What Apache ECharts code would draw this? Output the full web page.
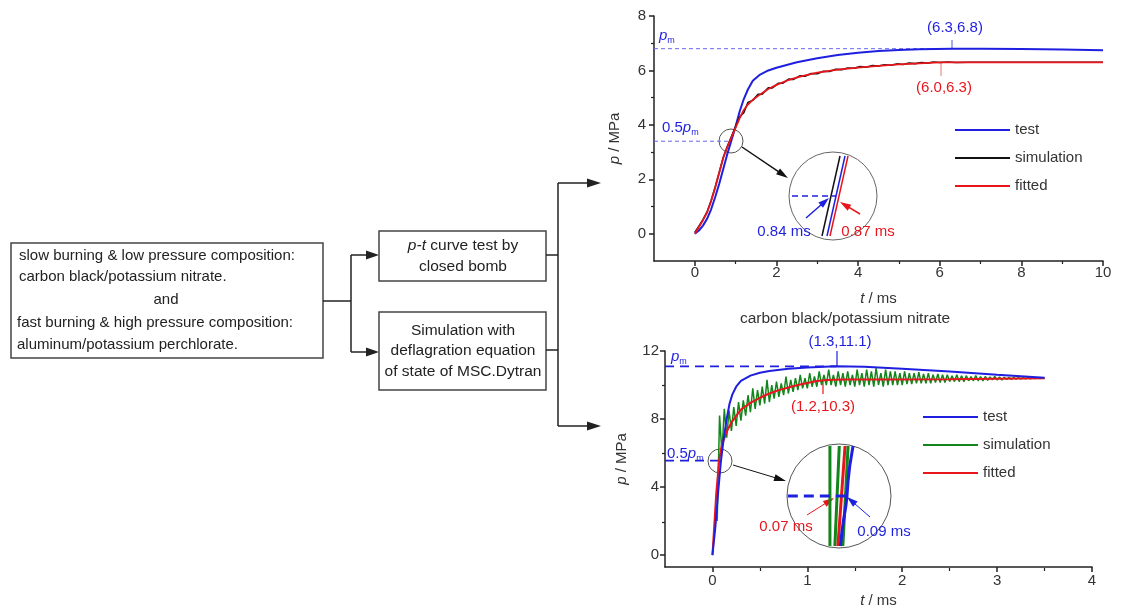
<!DOCTYPE html>
<html>
<head>
<meta charset="utf-8">
<style>
  html, body { margin: 0; padding: 0; background: #fff; }
  #chart { width: 1122px; height: 609px; }
</style>
<script src="https://cdn.jsdelivr.net/npm/echarts@6/dist/echarts.min.js"></script>
</head>
<body>
<div id="chart"></div>
<script>
// top chart: p-t curves (t in ms, p in MPa)
const topTest = [[0,0],[0.1,0.12],[0.2,0.3],[0.3,0.55],[0.4,0.9],[0.5,1.35],[0.6,1.85],[0.7,2.4],[0.8,2.95],[0.9,3.45],[1.0,3.95],[1.1,4.5],[1.2,4.95],[1.3,5.3],[1.42,5.62],[1.6,5.85],[1.8,6.0],[2.0,6.1],[2.5,6.3],[3.0,6.45],[3.5,6.57],[4.0,6.65],[4.5,6.71],[5.0,6.75],[5.5,6.78],[6.3,6.8],[7.0,6.8],[8.0,6.79],[9.0,6.77],[10.0,6.74]];
const topSim = [[0,0.05],[0.1,0.28],[0.2,0.52],[0.3,0.8],[0.4,1.22],[0.5,1.72],[0.6,2.27],[0.7,2.82],[0.8,3.22],[0.9,3.58],[1.0,3.95],[1.1,4.3],[1.2,4.45],[1.3,4.82],[1.42,4.9],[1.55,5.12],[1.65,5.13],[1.8,5.36],[1.9,5.36],[2.05,5.53],[2.15,5.53],[2.3,5.68],[2.42,5.67],[2.57,5.8],[2.7,5.79],[2.85,5.89],[3.0,5.88],[3.15,5.97],[3.3,5.96],[3.45,6.04],[3.6,6.03],[3.75,6.09],[3.9,6.08],[4.05,6.14],[4.2,6.12],[4.35,6.18],[4.5,6.16],[4.65,6.21],[4.8,6.19],[4.95,6.24],[5.1,6.22],[5.25,6.27],[5.4,6.25],[5.55,6.29],[5.7,6.27],[5.85,6.31],[6.0,6.29],[6.2,6.31],[6.4,6.29],[6.7,6.3],[7,6.3],[8,6.3],[9,6.3],[10,6.3]];
const topFit = [[0,0],[0.1,0.25],[0.2,0.5],[0.3,0.78],[0.4,1.2],[0.5,1.7],[0.6,2.25],[0.7,2.8],[0.8,3.2],[0.9,3.55],[1.0,3.9],[1.1,4.25],[1.2,4.55],[1.3,4.75],[1.42,4.92],[1.6,5.12],[1.8,5.32],[2.0,5.47],[2.3,5.65],[2.6,5.78],[3.0,5.92],[3.5,6.03],[4.0,6.1],[4.5,6.17],[5.0,6.22],[5.5,6.26],[6.0,6.3],[7,6.3],[8,6.3],[9,6.3],[10,6.3]];
const topPm = [[-1,6.8],[6.3,6.8]];
const topHalfPm = [[-1,3.4],[0.84,3.4]];
const topXTicks = [0,2,4,6,8,10];
const topXMinor = [1,3,5,7,9];
const topYTicks = [0,2,4,6,8];
const topYMinor = [1,3,5,7];

// top zoom circle around 0.5 pm
const insetTopTest = [[0.795,2.9],[0.885,3.9]];
const insetTopSim = [[0.77,2.9],[0.86,3.9]];
const insetTopFit = [[0.81,2.9],[0.90,3.9]];
const insetTopHalf = [[0.62,3.4],[0.84,3.4]];

// bottom chart
const botTest = [[0,0],[0.03,1.6],[0.06,3.7],[0.09,5.55],[0.12,6.9],[0.15,8.0],[0.18,8.9],[0.21,9.45],[0.25,9.9],[0.3,10.25],[0.4,10.55],[0.5,10.72],[0.6,10.83],[0.8,10.95],[1.0,11.03],[1.3,11.1],[1.6,11.07],[2.0,10.96],[2.5,10.8],[3.0,10.6],[3.5,10.42]];
const botFit = [[0,0],[0.02,1.8],[0.04,3.6],[0.07,5.55],[0.1,6.5],[0.15,7.25],[0.2,7.8],[0.3,8.55],[0.4,8.95],[0.5,9.25],[0.6,9.5],[0.7,9.7],[0.8,9.85],[0.9,10.0],[1.0,10.12],[1.1,10.23],[1.2,10.3],[1.4,10.32],[1.8,10.33],[2.5,10.34],[3.0,10.37],[3.5,10.4]];
const botSimStart = 0.05;
const botSimStep = 0.025;
const botSimValues = [2.0,8.2,6.0,8.6,6.9,8.5,7.3,8.7,7.6,9.0,7.9,9.1,8.2,9.4,8.4,9.8,8.6,9.7,8.8,9.9,
  8.9,10.3,9.0,10.0,9.2,10.2,9.3,10.1,9.4,10.5,9.5,10.3,9.6,10.4,9.7,10.6,9.8,10.4,9.8,10.7,
  9.9,10.5,9.9,10.8,10.0,10.6,10.0,10.9,10.0,10.6,9.9,10.8,10.0,10.7,9.9,10.8,10.0,10.6,9.9,10.9,
  10.0,10.7,9.9,10.9,10.0,10.8,9.9,11.0,10.0,10.7,9.9,10.9,10.0,10.8,10.0,10.8,10.0,10.7,10.0,10.8,
  10.05,10.7,10.05,10.7,10.1,10.75,10.1,10.65,10.1,10.7,10.1,10.6,10.15,10.65,10.15,10.6,10.15,10.6,10.2,10.55,
  10.2,10.6,10.2,10.55,10.2,10.55,10.25,10.5,10.25,10.55,10.25,10.5,10.25,10.5,10.28,10.48,10.3,10.5,10.3,10.47,
  10.3,10.46,10.32,10.45,10.33,10.45,10.34,10.44,10.35,10.44,10.36,10.43,10.37,10.42,10.38,10.42,10.39,10.41,10.4];
const botPm = [[-0.5,11.1],[1.3,11.1]];
const botHalfPm = [[-0.5,5.55],[0.09,5.55]];
const botXTicks = [0,1,2,3,4];
const botXMinor = [0.5,1.5,2.5,3.5];
const botYTicks = [0,4,8,12];
const botYMinor = [2,6,10];

// bottom zoom circle around 0.5 pm
const insetBotTest = [[0.066,5.05],[0.072,5.2],[0.078,5.32],[0.086,5.45],[0.09,5.55],[0.094,5.7],[0.1,5.85],[0.106,5.95],[0.112,6.05]];
const insetBotSimA = [[0.028,5.05],[0.028,6.05]];
const insetBotSimB = [[0.046,5.05],[0.062,6.05]];
const insetBotSimC = [[0.075,5.05],[0.094,6.05]];
const insetBotFit = [[0.057,5.05],[0.083,6.05]];
const insetBotHalf = [[-0.125,5.55],[0.09,5.55]];

const FONT = '"Liberation Sans", Arial, sans-serif';
const BLUE = '#1f1fe0';
const RED = '#e8161c';
const BLACK = '#111111';
const GREEN = '#12861a';
const AXIS = '#222';

const botSim = botSimValues.map((v, i) => [+(botSimStart + i * botSimStep).toFixed(3), v]);

const chart = echarts.init(document.getElementById('chart'));

function mainAxis(gridIndex, min, max, ticks, nameText, nameGap, margin) {
  return {
    type: 'value', gridIndex, min, max,
    name: nameText, nameLocation: 'middle', nameGap,
    nameTextStyle: {
      color: '#333', fontSize: 15, fontFamily: FONT,
      rich: { i: { fontStyle: 'italic', fontSize: 15, fontFamily: FONT, color: '#333' } }
    },
    axisLine: { show: true, onZero: false, lineStyle: { color: AXIS, width: 1.5 } },
    axisTick: { show: true, length: 5, customValues: ticks, lineStyle: { color: AXIS, width: 1.5 } },
    axisLabel: { customValues: ticks, color: '#333', fontSize: 15, fontFamily: FONT, margin },
    splitLine: { show: false }
  };
}

// minor ticks live on a twin grid with the same rectangle
function minorAxis(gridIndex, min, max, ticks) {
  return {
    type: 'value', gridIndex, min, max,
    axisLine: { show: false, onZero: false },
    axisLabel: { show: false },
    splitLine: { show: false },
    axisTick: { show: true, length: 3, customValues: ticks, lineStyle: { color: AXIS, width: 1.2 } }
  };
}

function hiddenAxis(gridIndex, min, max) {
  return { type: 'value', gridIndex, min, max, show: false, splitLine: { show: false } };
}

function line(name, data, color, width, xi, yi, extra) {
  return Object.assign({
    name, type: 'line', data, xAxisIndex: xi, yAxisIndex: yi,
    showSymbol: false, symbol: 'none', color,
    lineStyle: { color, width }, animation: false, silent: true
  }, extra || {});
}

function dashed(data, color, width, dash, xi, yi) {
  return line('', data, color, width, xi, yi, { lineStyle: { color, width, type: dash } });
}

function arrow(x1, y1, x2, y2, color, w, hl, hw) {
  const a = Math.atan2(y2 - y1, x2 - x1);
  const bx = x2 - hl * Math.cos(a), by = y2 - hl * Math.sin(a);
  const px = -Math.sin(a) * hw / 2, py = Math.cos(a) * hw / 2;
  return [
    { type: 'line', silent: true, shape: { x1, y1, x2: bx + hl * 0.3 * Math.cos(a), y2: by + hl * 0.3 * Math.sin(a) }, style: { stroke: color, lineWidth: w } },
    { type: 'polygon', silent: true, shape: { points: [[x2, y2], [bx + px, by + py], [bx - px, by - py]] }, style: { fill: color } }
  ];
}

function txt(x, y, text, opts) {
  return {
    type: 'text', x, y, silent: true,
    style: Object.assign({
      text, fill: '#222', fontSize: 15, fontFamily: FONT, align: 'left', verticalAlign: 'middle'
    }, opts || {})
  };
}

function pmText(x, y, prefix, size) {
  return txt(x, y, (prefix ? '{n|' + prefix + '}' : '') + '{i|p}{s|m}', {
    fill: BLUE,
    rich: {
      n: { fontSize: size, fontFamily: FONT, fill: BLUE, verticalAlign: 'bottom' },
      i: { fontSize: size, fontFamily: FONT, fill: BLUE, fontStyle: 'italic', verticalAlign: 'bottom' },
      s: { fontSize: 9, fontFamily: FONT, fill: BLUE, verticalAlign: 'bottom', padding: [0, 0, -2, 0] }
    }
  });
}

function rect(x, y, w, h) {
  return { type: 'rect', silent: true, shape: { x, y, width: w, height: h }, style: { fill: '#fff', stroke: '#444', lineWidth: 1.5 } };
}

function seg(points) {
  return { type: 'polyline', silent: true, shape: { points }, style: { stroke: '#222', lineWidth: 1.5, fill: null } };
}

function ring(cx, cy, r, color) {
  return { type: 'circle', silent: true, shape: { cx, cy, r }, style: { fill: 'none', stroke: color || '#555', lineWidth: 1 } };
}

const graphics = [
  // flowchart
  rect(11, 243, 312, 115),
  txt(19, 256, 'slow burning & low pressure composition:'),
  txt(19, 277, 'carbon black/potassium nitrate.'),
  txt(166, 300, 'and', { align: 'center' }),
  txt(17, 323, 'fast burning & high pressure composition:'),
  txt(17, 345, 'aluminum/potassium perchlorate.'),
  seg([[323, 301], [351, 301]]),
  seg([[351, 255], [351, 352]]),
  ...arrow(351, 255, 379, 255, '#222', 1.5, 13, 9),
  ...arrow(351, 352, 379, 352, '#222', 1.5, 13, 9),
  rect(379, 231, 167, 50),
  txt(463, 246, '{i|p-t}{n| curve test by}', {
    align: 'center',
    rich: {
      i: { fontSize: 15.5, fontFamily: FONT, fontStyle: 'italic', fill: '#222' },
      n: { fontSize: 15.5, fontFamily: FONT, fill: '#222' }
    }
  }),
  txt(463, 267, 'closed bomb', { align: 'center', fontSize: 15.5 }),
  rect(379, 312, 167, 78),
  txt(463, 331, 'Simulation with', { align: 'center', fontSize: 15.5 }),
  txt(463, 351, 'deflagration equation', { align: 'center', fontSize: 15.5 }),
  txt(463, 372, 'of state of MSC.Dytran', { align: 'center', fontSize: 15.5 }),
  seg([[546, 255], [558, 255]]),
  seg([[546, 350], [558, 350]]),
  seg([[558, 183], [558, 426]]),
  ...arrow(558, 183, 601, 183, '#222', 1.5, 14, 9),
  ...arrow(558, 426, 601, 426, '#222', 1.5, 14, 9),

  // top chart annotations
  pmText(659, 36, '', 15),
  pmText(662, 128, '0.5', 15),
  txt(955, 28, '(6.3,6.8)', { align: 'center', fill: BLUE }),
  { type: 'line', silent: true, shape: { x1: 952, y1: 40, x2: 952, y2: 48 }, style: { stroke: '#5555dd', lineWidth: 1 } },
  txt(944, 88, '(6.0,6.3)', { align: 'center', fill: RED }),
  { type: 'line', silent: true, shape: { x1: 941, y1: 63, x2: 941, y2: 76 }, style: { stroke: '#e07878', lineWidth: 1 } },
  ring(731, 141, 12),
  ...arrow(742, 147, 788, 178, '#111', 1.5, 12, 7),
  ring(833, 196, 44, '#666'),
  ...arrow(806, 218, 829, 198, BLUE, 1.5, 11, 7),
  ...arrow(860, 214, 840, 202, RED, 1.5, 11, 7),
  txt(784, 232, '0.84 ms', { align: 'center', fill: BLUE }),
  txt(868, 232, '0.87 ms', { align: 'center', fill: RED }),

  // between charts
  txt(845, 319, 'carbon black/potassium nitrate', { align: 'center', fontSize: 15.5, fill: '#333' }),

  // bottom chart annotations
  pmText(671, 357, '', 15),
  pmText(667, 454, '0.5', 15),
  txt(840, 342, '(1.3,11.1)', { align: 'center', fill: BLUE }),
  { type: 'line', silent: true, shape: { x1: 837, y1: 351, x2: 837, y2: 366 }, style: { stroke: BLUE, lineWidth: 1.2 } },
  txt(823, 407, '(1.2,10.3)', { align: 'center', fill: RED }),
  { type: 'line', silent: true, shape: { x1: 823, y1: 380, x2: 823, y2: 394 }, style: { stroke: RED, lineWidth: 1.2 } },
  ring(720, 461, 12),
  ...arrow(733, 465, 786, 481, '#111', 1, 12, 7),
  ring(839, 496, 52, '#555'),
  ...arrow(807, 515, 834, 498, RED, 1, 11, 7),
  ...arrow(870, 517, 847, 497, BLUE, 1, 11, 7),
  txt(786, 527, '0.07 ms', { align: 'center', fill: RED }),
  txt(884, 532, '0.09 ms', { align: 'center', fill: BLUE })
];

const legendBase = {
  orient: 'vertical', padding: 0, itemWidth: 55, itemHeight: 2, itemGap: 10, icon: 'rect',
  selectedMode: false,
  textStyle: { fontSize: 15, color: '#333', fontFamily: FONT, lineHeight: 18 }
};

const topRect = { left: 654, top: 16, width: 449, height: 245 };
const botRect = { left: 665, top: 351, width: 427, height: 217 };

const option = {
  backgroundColor: '#fff',
  animation: false,
  grid: [
    topRect,
    botRect,
    { left: 789, top: 152, width: 88, height: 88 },
    { left: 787, top: 444, width: 104, height: 104 },
    Object.assign({}, topRect),
    Object.assign({}, botRect)
  ],
  xAxis: [
    mainAxis(0, -1, 10, topXTicks, '{i|t} / ms', 30, 4),
    mainAxis(1, -0.5, 4, botXTicks, '{i|t} / ms', 26, 6),
    hiddenAxis(2, 0.605, 1.045),
    hiddenAxis(3, -0.128, 0.25),
    minorAxis(4, -1, 10, topXMinor),
    minorAxis(5, -0.5, 4, botXMinor)
  ],
  yAxis: [
    mainAxis(0, -1, 8, topYTicks, '{i|p} / MPa', 32, 8),
    mainAxis(1, -0.7, 12, botYTicks, '{i|p} / MPa', 36, 6),
    hiddenAxis(2, 2.85, 3.95),
    hiddenAxis(3, 5.03, 6.07),
    minorAxis(4, -1, 8, topYMinor),
    minorAxis(5, -0.7, 12, botYMinor)
  ],
  legend: [
    Object.assign({}, legendBase, { data: ['test', 'simulation', 'fitted'], left: 955, top: 121 }),
    Object.assign({}, legendBase, {
      data: ['test_b', 'simulation_b', 'fitted_b'], left: 923, top: 408,
      formatter: n => n.replace('_b', '')
    })
  ],
  graphic: graphics,
  series: [
    // top
    dashed(topPm, '#6a6af0', 1, [4, 3], 0, 0),
    dashed(topHalfPm, '#6a6af0', 1, [4, 3], 0, 0),
    line('test', topTest, BLUE, 2, 0, 0),
    line('simulation', topSim, BLACK, 1.6, 0, 0),
    line('fitted', topFit, RED, 1.8, 0, 0),
    // top inset
    dashed(insetTopHalf, BLUE, 1.5, [6, 4], 2, 2),
    line('', insetTopSim, BLACK, 1.5, 2, 2),
    line('', insetTopTest, BLUE, 1.5, 2, 2),
    line('', insetTopFit, RED, 1.5, 2, 2),
    // bottom
    dashed(botPm, BLUE, 1.8, [9, 6], 1, 1),
    dashed(botHalfPm, BLUE, 1.8, [9, 6], 1, 1),
    line('simulation_b', botSim, GREEN, 1.5, 1, 1),
    line('fitted_b', botFit, RED, 2, 1, 1),
    line('test_b', botTest, BLUE, 2, 1, 1),
    // bottom inset
    line('', insetBotSimA, GREEN, 3, 3, 3),
    line('', insetBotSimB, GREEN, 3, 3, 3),
    line('', insetBotFit, RED, 3, 3, 3),
    line('', insetBotSimC, GREEN, 3, 3, 3),
    line('', insetBotTest, BLUE, 3, 3, 3),
    dashed(insetBotHalf, BLUE, 3, [10, 6], 3, 3)
  ]
};

chart.setOption(option);
</script>
</body>
</html>
